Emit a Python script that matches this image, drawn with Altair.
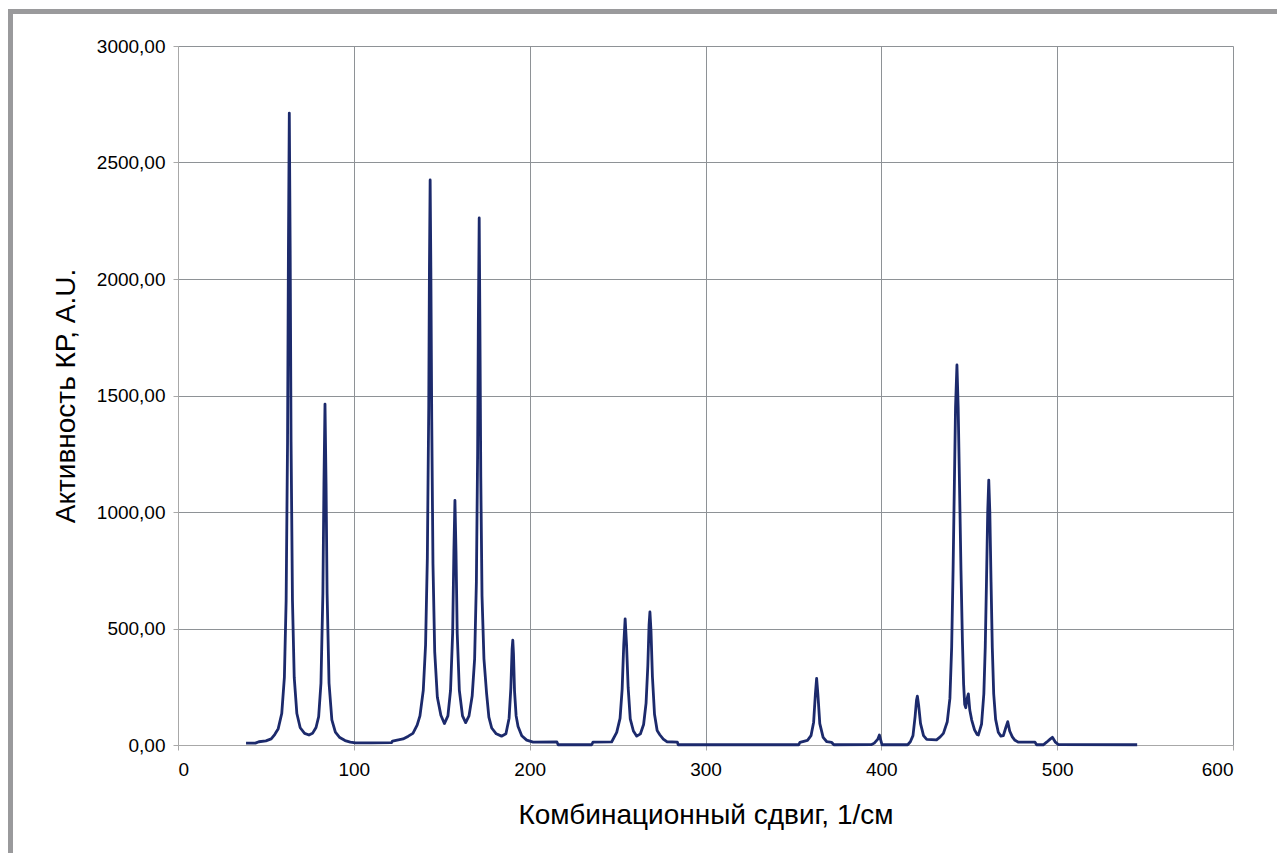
import altair as alt
import pandas as pd

# Raman spectrum
shift = [
    38.7, 44, 46, 50, 53, 55, 57, 59, 60.5, 61.5, 62.3, 62.8, 63.3, 63.8, 64.3, 65.1, 66.1, 67.6,
    69.5, 72, 74.5, 76.5, 78.5, 80, 81.3, 82.4, 83.0, 83.6, 84.2, 84.8, 85.9, 87.5, 89.5, 92, 95,
    98, 101,
    110, 121.5, 122, 128, 131, 133.6, 136, 137.6, 139.5, 140.8, 141.8, 142.6, 143.0, 143.4, 143.8,
    144.3, 145.0, 146.0, 147.5, 149.5, 151.5, 153.5, 155, 156.2, 156.9, 157.5, 158.1, 158.8, 160,
    161.8, 163.6, 165.5, 167.3, 168.7, 169.7, 170.4, 170.8, 171.3, 171.7, 172.2, 172.9, 174, 175.5,
    176.8, 178.4, 181, 184, 186.5, 188.3, 189.3, 190.0, 190.4, 190.8, 191.4, 192.3, 193.4, 195.5,
    198.3, 202,
    215.5, 216.2, 235.3, 236, 246.6, 249.5, 251.4, 252.6, 253.5, 254.3, 255.1, 256, 257.2, 259,
    260.9, 263, 264.8, 266.2, 267.2, 267.9, 268.4, 269, 269.8, 271, 272.5, 274, 276, 278, 284, 284.5,
    353, 353.7, 358, 360, 361.5, 362.5, 363.2, 363.9, 365, 366.9, 369, 371.8, 373, 394.5, 396, 398,
    398.9, 399.7, 400.4, 415, 416.5, 418, 419.2, 420, 420.5, 421.2, 422.3, 424, 425.8, 431.4,
    433.5, 435.3, 437.5, 439, 440, 440.8, 441.5, 442.2, 443.0, 443.7, 444.5, 445.3, 446.1, 446.8,
    447.4, 448, 448.8, 449.5, 450.3, 451.4, 453, 454.5, 455.2, 457, 458.3, 459.1, 459.8, 460.5,
    461.1, 461.7, 462.4, 463.1, 463.9, 465, 466.5, 468, 469.4, 470.8, 471.9, 473, 474.5, 476, 478,
    487.4, 488.3, 492.1, 494, 496, 497.3, 499, 500.7, 545.5,
]
intensity = [
    8, 8, 14, 18, 26, 45, 70, 135, 290, 620, 1300, 2120, 2712, 2120, 1300, 620, 290, 135,
    74, 50, 43, 50, 75, 122, 265, 650, 1120, 1463, 1120, 650, 265, 108, 55, 32, 19,
    12, 9,
    9, 10, 17, 26, 38, 50, 85, 125, 235, 430, 800, 1450, 2050, 2425, 2050,
    1400, 780, 400, 205, 128, 92, 125, 235, 480, 830, 1050, 830, 480, 235,
    125, 96, 125, 210, 370, 700, 1250, 1800, 2262, 1800, 1150, 640, 370, 222,
    120, 73, 48, 38, 48, 115, 245, 410, 450, 390, 230, 125, 79, 40,
    21, 12,
    13, 1, 1, 12, 13, 54, 114, 240, 430, 541, 430, 248, 112, 60,
    38, 48, 88, 180, 340, 515, 571, 490, 295, 132, 62, 44, 25, 14, 12, 1,
    1, 11, 20, 40, 98, 220, 286, 220, 92, 33, 14, 11, 1, 2, 8, 25,
    43, 20, 1, 1, 14, 40, 122, 192, 210, 172, 92, 40, 24, 22,
    35, 50, 100, 200, 420, 750, 1100, 1450, 1631, 1450, 1100, 750, 450, 260,
    175, 160, 200, 219, 150, 107, 65, 45, 43, 90, 220, 420, 700, 1000,
    1137, 1000, 700, 420, 220, 110, 55, 38, 40, 75, 100, 60, 35, 20, 12,
    12, 1, 1, 12, 25, 33, 12, 2, 1,
]

x_ticks = [0, 100, 200, 300, 400, 500, 600]
y_ticks = [0, 500, 1000, 1500, 2000, 2500, 3000]

df = pd.DataFrame({"shift": shift, "intensity": intensity})

FONT = "Liberation Sans"
GRID = "#8e9296"

line = alt.Chart(df).mark_line(color="#1c2a6c", strokeWidth=2.8, interpolate="linear",
                               strokeJoin="round").encode(
    x=alt.X(
        "shift:Q",
        scale=alt.Scale(domain=[0, 600], nice=False, zero=False),
        axis=alt.Axis(
            values=x_ticks,
            title="Комбинационный сдвиг, 1/см",
            grid=True,
            gridColor=GRID,
            gridWidth=1,
            domainColor="#a8a8a8",
            tickColor="#a8a8a8",
            tickSize=5,
            labelFont=FONT,
            labelFontSize=19,
            labelColor="black",
            labelPadding=10,
            titleFont=FONT,
            titleFontSize=28,
            titleFontWeight="normal",
            titleColor="black",
            titleY=70,
            titleBaseline="middle",
        ),
    ),
    y=alt.Y(
        "intensity:Q",
        scale=alt.Scale(domain=[0, 3000], nice=False),
        axis=alt.Axis(
            values=y_ticks,
            title="Активность КР, А.U.",
            labelExpr="replace(format(datum.value, '.2f'), '.', ',')",
            grid=True,
            gridColor=GRID,
            gridWidth=1,
            domainColor="#a8a8a8",
            tickColor="#a8a8a8",
            tickSize=5,
            labelFont=FONT,
            labelFontSize=19,
            labelColor="black",
            labelPadding=8,
            titleFont=FONT,
            titleFontSize=28,
            titleFontWeight="normal",
            titleColor="black",
            titleX=-112,
            titleY=349.5,
            titleAlign="center",
            titleBaseline="middle",
        ),
    ),
)

deco = alt.Data(values=[{}])
frame_top = alt.Chart(deco).mark_rule(color="#9a9a9c", strokeWidth=5).encode(
    x=alt.value(-170), x2=alt.value(1099), y=alt.value(-34.5)
)
frame_left = alt.Chart(deco).mark_rule(color="#9a9a9c", strokeWidth=5).encode(
    x=alt.value(-167.5), y=alt.value(-37), y2=alt.value(807)
)

chart = alt.layer(frame_top, frame_left, line).properties(
    width=1055,
    height=699,
    autosize=alt.AutoSizeParams(type="none"),
    padding={"left": 178, "top": 46, "right": 44, "bottom": 108},
    background="white",
).configure_view(stroke=None)

chart.save("out.html", embed_options={"renderer": "svg", "actions": False})
